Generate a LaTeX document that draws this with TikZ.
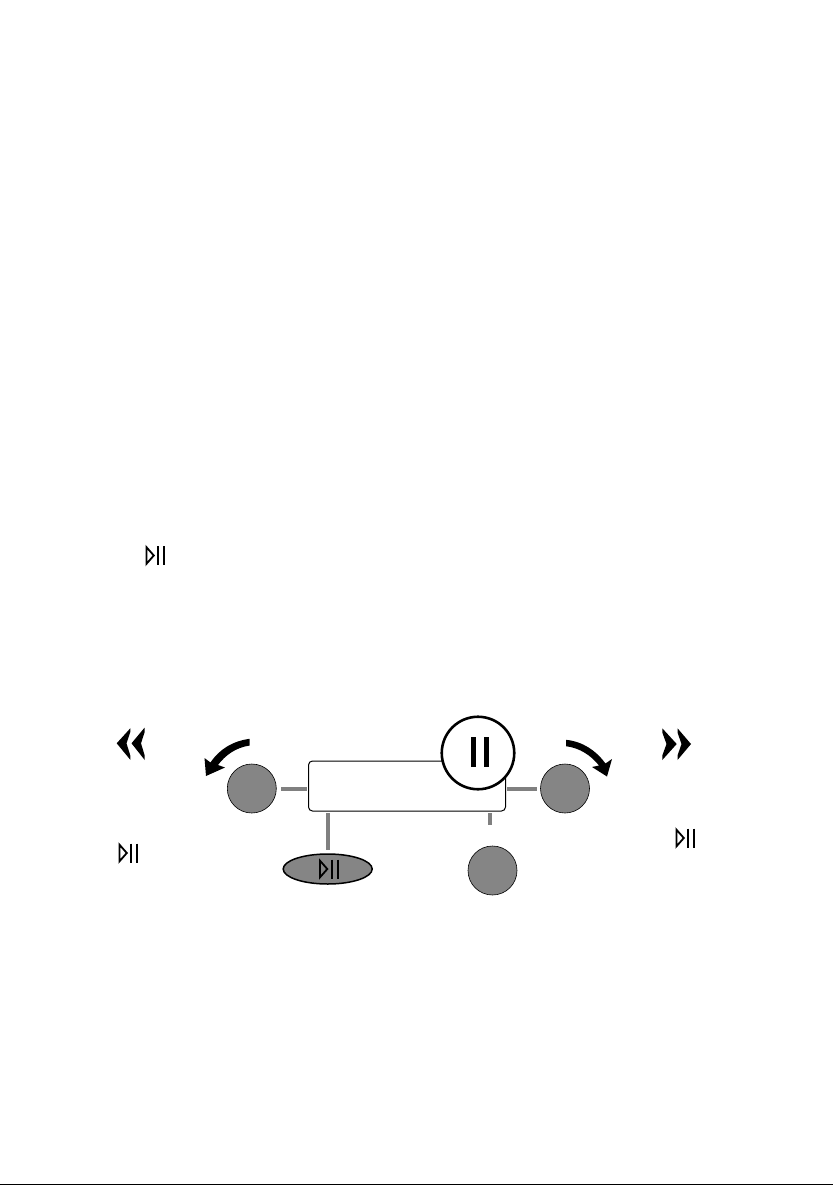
\documentclass[tikz,border=0pt]{standalone}
\usetikzlibrary{shapes.geometric}
\definecolor{knobgray}{HTML}{858585}
\definecolor{leadgray}{HTML}{808080}
\tikzset{
  knob/.style={circle,draw=black,line width=0.6pt,fill=knobgray,minimum size=49pt,inner sep=0pt,outer sep=0pt},
  lead/.style={draw=leadgray,line width=4pt,line cap=butt},
  solidshape/.style={fill=black,draw=none},
  pics/playpause/.style={code={
    \draw[line width=1.8pt,line join=miter] (-8.6,-8.4)--(-1.2,0)--(-8.6,8.4)--cycle;
    \draw[line width=1.8pt] (3.2,-9.5)--(3.2,9.5) (9.2,-9.5)--(9.2,9.5);
  }}
}
\begin{document}
\begin{tikzpicture}[x=1pt,y=-1pt]
\useasboundingbox (0,0) rectangle (833,1185);
% scan edge
\draw[line width=1pt] (0,1184.5)--(833,1184.5);
% display box and knobs
\node[draw=black,line width=1pt,rounded corners=4pt,minimum width=197pt,minimum height=50pt,inner sep=0pt,outer sep=0pt] (box) at (407,786) {};
\node[knob] (lk) at (251.8,788.5) {};
\node[knob] (rk) at (565,788.5) {};
\node[knob] (bk) at (492.5,870.5) {};
\node[ellipse,draw=black,line width=1.5pt,fill=knobgray,minimum width=89pt,minimum height=30pt,inner sep=0pt,outer sep=0pt] (pk) at (327.7,869) {};
\node[circle,draw=black,line width=2.6pt,fill=white,minimum size=72.5pt,inner sep=0pt] (pause) at (478,753) {};
\fill (470.5,737) rectangle (475.5,767);
\fill (484,737) rectangle (489,767);
% leads
\coordinate (bkend) at (490,825);
\path[lead] ([xshift=4.8pt]lk.east) -- ([xshift=-1.8pt]box.west |- lk.east);
\path[lead] ([xshift=1.5pt]box.east |- rk.west) -- ([xshift=-3.8pt]rk.west);
\path[lead] ([yshift=-2pt]box.south -| pk.north) -- ([yshift=4pt]pk.north);
\path[lead] ([yshift=-2pt]box.south -| bkend) -- (bkend);
% icons
\path (155,555.5) pic {playpause};
\path (128,853) pic {playpause};
\path (328.5,869) pic {playpause};
\path (685,838) pic {playpause};
% rotation arrows
\fill (249.7,738.8) .. controls (233,741) and (219.5,749) .. (210.5,762.5)
  -- (204.5,758) -- (206,776) -- (225,767.5) -- (218,765)
  .. controls (225.5,755) and (236,747.5) .. (249.7,745.5) -- cycle;
\fill (566,739.8) .. controls (583,741.5) and (596.5,751) .. (605.5,763.5)
  -- (612,759) -- (607,776.5) -- (592,767) -- (599,765.5)
  .. controls (591,755.5) and (580,748) .. (566,746.2) -- cycle;
% chevrons
\fill[solidshape] (116.7,743.3)--(130.3,728.3)--(130.3,732)--(126.5,743.3)--(130.3,755.5)--(130.3,759.8)--cycle;
\fill[solidshape] (131.5,743.3)--(144.7,727.5)--(144.7,732)--(141,743.3)--(144.7,755.5)--(144.7,760)--cycle;
\fill[solidshape] (676.7,744)--(662.3,728.3)--(662.3,732.5)--(666.5,744)--(662.3,755.5)--(662.3,760)--cycle;
\fill[solidshape] (691,744)--(677.5,728.3)--(677.5,732.5)--(681.5,744)--(677.5,755.5)--(677.5,760)--cycle;
\end{tikzpicture}
\end{document}
